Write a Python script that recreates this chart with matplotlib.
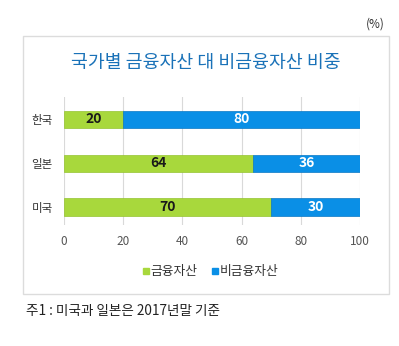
import numpy as np
import matplotlib.pyplot as plt
from matplotlib.patches import Rectangle
from matplotlib.lines import Line2D

plt.rcParams['font.family'] = ['Noto Sans CJK KR', 'DejaVu Sans']

# datos
paises = ["한국", "일본", "미국"]
financiero = [20, 64, 70]
no_financiero = [80, 36, 30]
series_nombres = ["금융자산", "비금융자산"]
xticks = [0, 20, 40, 60, 80, 100]

verde = "#a8d83c"
azul = "#0a8fe6"

W, H = 399, 346
fig = plt.figure(figsize=(W/100, H/100), dpi=100)

# marco gris
fig.patches.append(Rectangle((23/W, 1-294/H), 366/W, 258/H, transform=fig.transFigure,
                             fill=False, edgecolor="#dcdcdc", linewidth=1.0))

ax = fig.add_axes([64/W, 1-225/H, 296/W, 128/H])
y = np.arange(len(paises))
ax.barh(y, financiero, height=0.39, color=verde, edgecolor="#95c330", linewidth=0.5, zorder=2)
ax.barh(y, no_financiero, left=financiero, height=0.39, color=azul, edgecolor="#0a78c4",
        linewidth=0.5, zorder=2)

for i in range(len(paises)):
    ax.text(financiero[i]/2, y[i], str(financiero[i]), ha="center", va="center",
            fontsize=10, fontweight="bold", color="#1a1a1a", zorder=3)
    ax.text(financiero[i]+no_financiero[i]/2, y[i], str(no_financiero[i]), ha="center", va="center",
            fontsize=10, fontweight="bold", color="white", zorder=3)

ax.set_xlim(0, 100)
ax.set_ylim(2.41, -0.51)
ax.set_yticks(y)
ax.set_yticklabels(paises, fontsize=8.3, color="#333333")
ax.set_xticks(xticks)
ax.set_xticklabels([str(v) for v in xticks], fontsize=8.5, color="#555555")
ax.tick_params(length=0, pad=7)
ax.tick_params(axis="y", pad=8)
for s in ax.spines.values():
    s.set_visible(False)
ax.grid(axis="x", color="#d9d9d9", linewidth=0.8, zorder=0)

fig.text(206/W, 1-63/H, "국가별 금융자산 대 비금융자산 비중", ha="center", va="center",
         fontsize=13.2, color="#1a72b8")
fig.text(375/W, 1-24/H, "(%)", ha="center", va="center", fontsize=8.5, color="#333333")
fig.text(26/W, 1-311/H, "주1 : 미국과 일본은 2017년말 기준", ha="left", va="center",
         fontsize=9.8, color="#222222")

handles = [Line2D([], [], marker="s", linestyle="none", markersize=4, color=verde),
           Line2D([], [], marker="s", linestyle="none", markersize=4, color=azul)]
fig.legend(handles, series_nombres, loc="center", bbox_to_anchor=(210/W, 1-272/H), ncol=2,
           frameon=False, fontsize=9.2, handletextpad=0.05, columnspacing=1.0,
           handlelength=0.7, labelcolor="#333333")

fig.savefig("out.png", dpi=100, facecolor="white")
